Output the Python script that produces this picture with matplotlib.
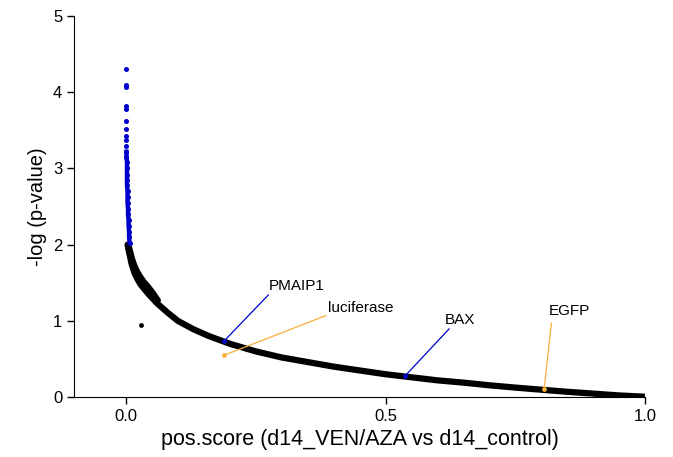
import matplotlib.pyplot as plt

plt.rcParams['font.family'] = ['Liberation Sans', 'DejaVu Sans']

# main cloud of genes (read along the band)
curve_x = [0.003, 0.005, 0.008, 0.010, 0.013, 0.017, 0.022, 0.028, 0.035, 0.045,
           0.060, 0.080, 0.100, 0.130, 0.160, 0.200, 0.250, 0.300, 0.350, 0.400,
           0.450, 0.500, 0.550, 0.600, 0.650, 0.700, 0.750, 0.800, 0.850, 0.900,
           0.950, 1.000]
curve_y = [2.00, 1.93, 1.84, 1.77, 1.70, 1.62, 1.55, 1.48, 1.42, 1.34,
           1.23, 1.11, 1.00, 0.89, 0.80, 0.70, 0.60, 0.52, 0.46, 0.40,
           0.35, 0.30, 0.26, 0.22, 0.19, 0.155, 0.125, 0.097, 0.070, 0.046,
           0.022, 0.005]
# upper edge of the cloud where it is widest
edge_x = [0.006, 0.009, 0.012, 0.016, 0.021, 0.027, 0.034, 0.043, 0.052, 0.062]
edge_y = [1.98, 1.90, 1.82, 1.74, 1.66, 1.59, 1.52, 1.45, 1.37, 1.27]
# single outlier
out_x = [0.029]
out_y = [0.95]

# significant hits (blue)
blue_x = [0.001, 0.001, 0.001, 0.001, 0.001, 0.001, 0.001, 0.001, 0.001, 0.001,
          0.001, 0.001, 0.002, 0.002, 0.002, 0.002, 0.002, 0.003, 0.003, 0.003,
          0.004, 0.004, 0.005, 0.005, 0.006, 0.006, 0.007]
blue_y = [4.30, 4.10, 4.07, 3.82, 3.78, 3.62, 3.52, 3.42, 3.37, 3.30, 3.22, 3.15,
          3.08, 3.00, 2.92, 2.85, 2.78, 2.70, 2.62, 2.55, 2.47, 2.40, 2.32, 2.25,
          2.17, 2.10, 2.02]

# labelled genes: name, point, label anchor, colour
lab_names = ['PMAIP1', 'luciferase', 'BAX', 'EGFP']
lab_x = [0.189, 0.189, 0.537, 0.805]
lab_y = [0.737, 0.55, 0.276, 0.105]
lab_tx = [0.274, 0.385, 0.622, 0.819]
lab_ty = [1.34, 1.07, 0.895, 0.97]
lab_col = ['#0000CC', '#FBAE3C', '#0000CC', '#FBAE3C']

fig = plt.figure(figsize=(6.73, 4.57), dpi=100)
ax = fig.add_axes([0.110, 0.131, 0.849, 0.834])

ax.plot(curve_x, curve_y, color='black', lw=4.5, solid_capstyle='round', zorder=2)
ax.plot(edge_x, edge_y, color='black', lw=4, solid_capstyle='round', zorder=2)
ax.scatter(out_x, out_y, s=12, color='black', lw=0, zorder=2)
ax.plot(blue_x[10:], blue_y[10:], color='#0000CC', lw=3.2, zorder=3)
ax.scatter(blue_x, blue_y, s=13, color='#0000CC', lw=0, zorder=3)

for name, x, y, tx, ty, c in zip(lab_names, lab_x, lab_y, lab_tx, lab_ty, lab_col):
    ax.plot([x, tx], [y, ty], color=c, lw=0.9, zorder=4)
    ax.scatter([x], [y], s=12, color=c, lw=0, zorder=5)

ax.text(0.274, 1.36, 'PMAIP1', fontsize=11, ha='left', va='bottom')
ax.text(0.389, 1.08, 'luciferase', fontsize=11, ha='left', va='bottom')
ax.text(0.642, 0.92, 'BAX', fontsize=11, ha='center', va='bottom')
ax.text(0.854, 1.04, 'EGFP', fontsize=11, ha='center', va='bottom')

ax.set_xlim(-0.1, 1.0)
ax.set_ylim(0, 5)
ax.set_xticks([0, 0.5, 1.0])
ax.set_xticklabels(['0.0', '0.5', '1.0'])
ax.set_yticks([0, 1, 2, 3, 4, 5])
ax.spines['top'].set_visible(False)
ax.spines['right'].set_visible(False)
ax.tick_params(labelsize=12, length=5, width=1)
ax.set_xlabel('pos.score (d14_VEN/AZA vs d14_control)', fontsize=15.5)
ax.set_ylabel('-log (p-value)', fontsize=14.5)

fig.savefig('out.png', dpi=100)
